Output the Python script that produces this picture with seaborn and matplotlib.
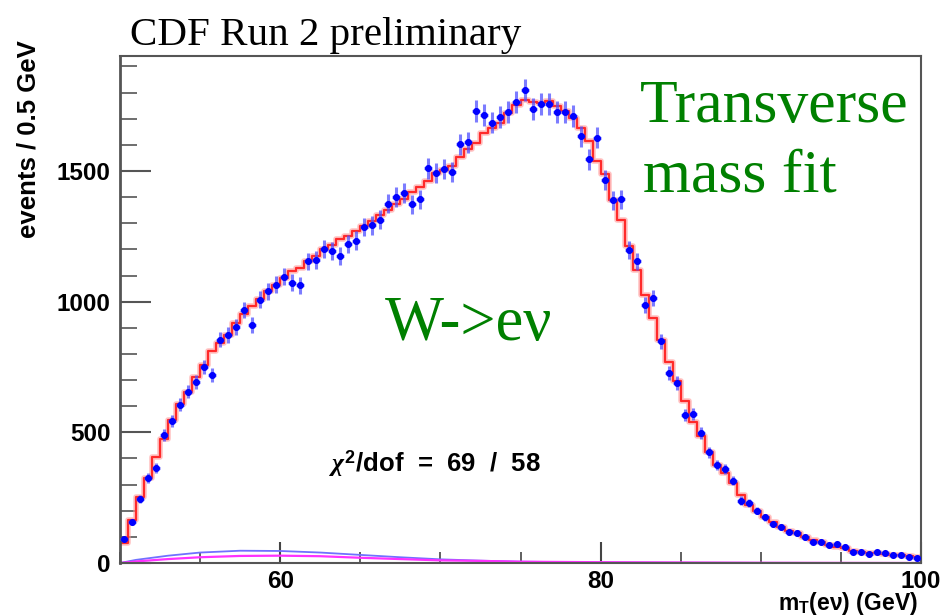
import numpy as np
import pandas as pd
import matplotlib
matplotlib.use('Agg')
import matplotlib.pyplot as plt
import seaborn as sns
from matplotlib.ticker import MultipleLocator

# ---- data ----
x_range = (50.0, 100.0)
bin_width = 0.5

data_counts = [91, 156, 244, 325, 363, 490, 543, 605, 656, 692,
               750, 720, 854, 872, 903, 969, 912, 1008, 1040, 1065,
               1095, 1072, 1063, 1154, 1158, 1202, 1195, 1176, 1221, 1234,
               1286, 1292, 1314, 1375, 1401, 1416, 1372, 1391, 1510, 1493,
               1508, 1496, 1602, 1610, 1729, 1714, 1685, 1706, 1727, 1765,
               1810, 1738, 1757, 1757, 1725, 1725, 1710, 1633, 1544, 1627,
               1467, 1388, 1391, 1199, 1154, 988, 1014, 848, 727, 688,
               567, 571, 497, 423, 375, 360, 315, 239, 231, 200,
               175, 149, 137, 118, 114, 98, 82, 82, 69, 73,
               63, 42, 42, 34, 43, 37, 31, 31, 24, 18]

model_counts = [78, 165, 254, 325, 407, 475, 548, 608, 656, 711,
                758, 813, 841, 873, 918, 953, 982, 1011, 1040, 1065,
                1091, 1116, 1129, 1154, 1174, 1202, 1218, 1238, 1250, 1269,
                1291, 1308, 1330, 1352, 1372, 1391, 1419, 1440, 1461, 1493,
                1503, 1519, 1554, 1585, 1608, 1644, 1665, 1685, 1723, 1751,
                1771, 1764, 1761, 1767, 1748, 1729, 1704, 1665, 1614, 1538,
                1487, 1388, 1312, 1212, 1123, 1027, 938, 854, 771, 695,
                618, 541, 487, 426, 375, 344, 305, 261, 222, 200,
                177, 158, 139, 124, 114, 101, 88, 79, 69, 63,
                56, 47, 43, 40, 37, 34, 32, 29, 27, 24]

bg_x = [50, 51, 53, 55, 57.5, 60, 62.5, 65, 67.5, 70, 72.5, 75, 80, 85, 90, 100]
bg_blue = [0, 12, 28, 40, 47, 46, 40, 31, 22, 14, 9, 5, 2, 1, 0.5, 0]
bg_magenta = [0, 6, 15, 22, 27, 28, 26, 20, 15, 10, 8, 5, 3, 2, 1, 0]

x_ticks = [60, 80, 100]
y_ticks = [0, 500, 1000, 1500]

# ---- style ----
sns.set_theme(style='white')
plt.rcParams['font.family'] = ['Liberation Sans', 'DejaVu Sans']
plt.rcParams['font.weight'] = 'bold'
plt.rcParams['mathtext.fontset'] = 'custom'
plt.rcParams['mathtext.bf'] = 'Liberation Sans:bold'
plt.rcParams['mathtext.rm'] = 'Liberation Sans:bold'
plt.rcParams['mathtext.it'] = 'Liberation Serif:italic'

n_bins = len(data_counts)
centers = x_range[0] + bin_width * (np.arange(n_bins) + 0.5)
df = pd.DataFrame({'m': centers, 'data': data_counts, 'model': model_counts})
df['err'] = np.sqrt(df['data'])
bg = pd.DataFrame({'x': bg_x, 'blue': bg_blue, 'mag': bg_magenta})

fig = plt.figure(figsize=(9.47, 6.16), dpi=100)
ax = fig.add_axes([120 / 947, 53 / 616, 801 / 947, 507 / 616])

# background components
sns.lineplot(data=bg, x='x', y='blue', color='#7070ff', linewidth=1.3, ax=ax)
sns.lineplot(data=bg, x='x', y='mag', color='#ff30ff', linewidth=1.6, ax=ax)

# model histogram (halo + line)
sns.histplot(data=df, x='m', weights='model', binwidth=bin_width, binrange=x_range,
             element='step', fill=False, color='#ff9a9a', linewidth=4, alpha=0.6, ax=ax)
sns.histplot(data=df, x='m', weights='model', binwidth=bin_width, binrange=x_range,
             element='step', fill=False, color='#ff2a2a', linewidth=1.6, ax=ax)

# data points
ax.errorbar(df['m'], df['data'], yerr=df['err'], xerr=bin_width / 2, fmt='none',
            ecolor='#5050ff', elinewidth=2.2, alpha=0.75, zorder=4)
sns.scatterplot(data=df, x='m', y='data', color='#0000ff', s=26,
                linewidth=0, ax=ax, zorder=5)

ax.set_xlim(*x_range)
ax.set_ylim(0, 1940)
ax.set_xlabel('')
ax.set_ylabel('')

ax.set_xticks(x_ticks)
ax.set_xticklabels([str(t) for t in x_ticks])
ax.set_yticks(y_ticks)
ax.set_yticklabels([str(t) for t in y_ticks])
ax.xaxis.set_minor_locator(MultipleLocator(5))
ax.yaxis.set_minor_locator(MultipleLocator(100))
ax.tick_params(axis='x', which='major', direction='in', length=15, width=1.5,
               color='#444444', labelsize=17.5, labelcolor='black', pad=5, bottom=True)
ax.tick_params(axis='x', which='minor', direction='in', length=8, width=1.2,
               color='#444444', bottom=True)
ax.tick_params(axis='y', which='major', direction='in', length=22, width=1.5,
               color='#555555', labelsize=17.5, labelcolor='black', pad=7, left=True)
ax.tick_params(axis='y', which='minor', direction='in', length=12, width=1.2,
               color='#555555', left=True)
for s in ax.spines.values():
    s.set_color('#555555')
    s.set_linewidth(1.5)
ax.spines['left'].set_linewidth(2)

# ---- texts ----
fig.text(130 / 947, 1 - 45 / 616, 'CDF Run 2 preliminary', family='Liberation Serif',
         weight='normal', size=29.5, ha='left', va='baseline', color='black')
fig.text(640 / 947, 1 - 122 / 616, 'Transverse', family='Liberation Serif',
         weight='normal', size=44.5, ha='left', va='baseline', color='#008000')
fig.text(643 / 947, 1 - 192 / 616, 'mass fit', family='Liberation Serif',
         weight='normal', size=44.5, ha='left', va='baseline', color='#008000')
fig.text(385 / 947, 1 - 340 / 616, 'W->eν', family='Liberation Serif',
         weight='normal', size=45, ha='left', va='baseline', color='#008000')
fig.text(329 / 947, 1 - 472 / 616, r'$\chi^{\mathbf{2}}$/dof  =  69  /  58',
         size=18.5, ha='left', va='baseline', color='black', weight='bold')
fig.text(918 / 947, 1 - 610 / 616, r'm$_{\mathbf{T}}$(eν) (GeV)',
         size=16.5, ha='right', va='baseline', color='black', weight='bold')
fig.text(28 / 947, 1 - 40 / 616, 'events / 0.5 GeV', rotation=90,
         size=18.5, ha='center', va='top', color='black', weight='bold')

fig.savefig('out.png', dpi=100)
